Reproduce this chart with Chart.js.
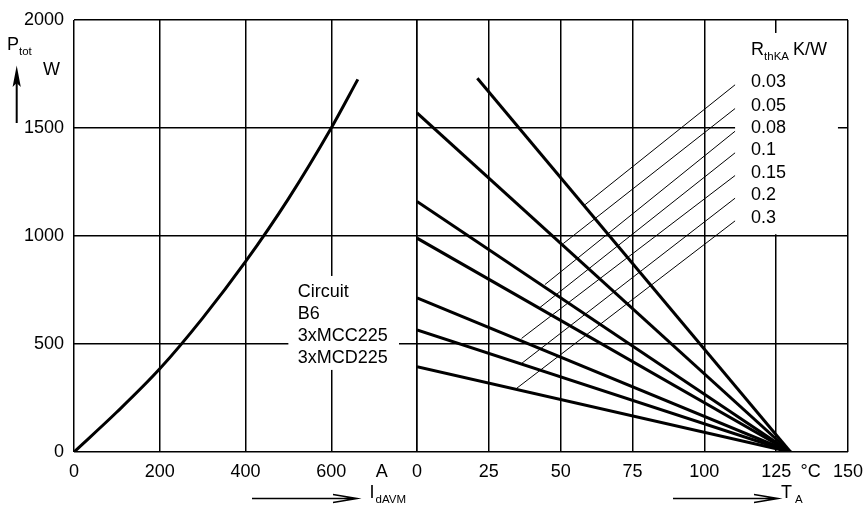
<!DOCTYPE html>
<html>
<head>
<meta charset="utf-8">
<script src="https://cdn.jsdelivr.net/npm/chart.js@4.4.1/dist/chart.umd.min.js"></script>
<style>
  html, body { margin: 0; padding: 0; background: #fff; }
</style>
</head>
<body>
<canvas id="ptotChart" width="863" height="514"></canvas>
<script>
// --- values ---
const powerTicks = [0, 500, 1000, 1500, 2000];
const currentTickValues = [0, 200, 400, 600, 718, 800];
const currentTickLabels = ['0', '200', '400', '600', 'A', ''];
const tempTickValues = [0, 25, 50, 75, 100, 125, 137, 150];
const tempTickLabels = ['0', '25', '50', '75', '100', '125', '°C', '150'];

// left half: Ptot over IdAVM
const currentValues = [0, 100, 200, 300, 400, 500, 600, 662];
const powerValues = [0, 185, 385, 620, 881, 1172, 1500, 1725];

// right half: Ptot over TA, one line per RthKA
const rthLabels = ['0.03', '0.05', '0.08', '0.1', '0.15', '0.2', '0.3'];
const lineStartT = [21, 0, 0, 0, 0, 0, 0];
const lineStartP = [1730, 1570, 1160, 990, 714, 565, 395];
const lineEndT = 130;   // every line runs down to TA = 130 °C, P = 0

// thin leader lines from each label down to its line
const leaderEndT = 110.7;
const leaderEndP = [1700, 1590, 1485, 1385, 1280, 1175, 1070];
const leaderFootT = [58.5, 50.9, 44.5, 42.8, 36.4, 36.4, 34.7];
const leaderFootP = [1145, 965, 775, 669, 526, 410, 295];

const circuitLines = ['Circuit', 'B6', '3xMCC225', '3xMCD225'];

// --- styling ---
const FAMILY = "'Liberation Sans', Arial, sans-serif";
const MAIN_FONT = '18px ' + FAMILY;
const SUB_FONT = '11.5px ' + FAMILY;
Chart.defaults.font.family = FAMILY;
Chart.defaults.font.size = 18;
Chart.defaults.color = '#000';

const datasets = [];
datasets.push({
  label: 'Ptot(IdAVM)',
  xAxisID: 'xA',
  data: currentValues.map((a, i) => ({ x: a, y: powerValues[i] })),
  borderColor: '#000',
  borderWidth: 3,
  cubicInterpolationMode: 'monotone',
  pointRadius: 0,
  showLine: true
});
rthLabels.forEach((r, i) => {
  datasets.push({
    label: 'RthKA ' + r,
    xAxisID: 'xT',
    data: [{ x: lineStartT[i], y: lineStartP[i] }, { x: lineEndT, y: 0 }],
    borderColor: '#000',
    borderWidth: 3,
    pointRadius: 0,
    showLine: true
  });
  datasets.push({
    label: 'leader ' + r,
    xAxisID: 'xT',
    data: [{ x: leaderFootT[i], y: leaderFootP[i] }, { x: leaderEndT, y: leaderEndP[i] }],
    borderColor: '#000',
    borderWidth: 1,
    pointRadius: 0,
    showLine: true
  });
});

function subText(ctx, x, base, main, sub, gap) {
  ctx.font = MAIN_FONT;
  ctx.fillText(main, x, base);
  const w = ctx.measureText(main).width;
  ctx.font = SUB_FONT;
  ctx.fillText(sub, x + w + gap, base + 5);
  return x + w + gap + ctx.measureText(sub).width;
}

function rightArrow(ctx, x0, x1, y) {
  ctx.beginPath();
  ctx.moveTo(x0, y);
  ctx.lineTo(x1, y);
  ctx.moveTo(x1 - 24, y - 4);
  ctx.lineTo(x1, y);
  ctx.lineTo(x1 - 24, y + 4);
  ctx.stroke();
}

// white blocks behind the text, drawn over the grid, then text and arrows
const decorations = {
  id: 'decorations',
  beforeDatasetsDraw(chart) {
    const { ctx, scales: { xA, xT, y } } = chart;
    ctx.save();
    ctx.fillStyle = '#fff';
    let l = xT.getPixelForValue(110.7), r = xT.getPixelForValue(146.5);
    let t = y.getPixelForValue(1940), b = y.getPixelForValue(1008);
    ctx.fillRect(l, t, r - l, b - t);
    l = xA.getPixelForValue(500); r = xA.getPixelForValue(758);
    t = y.getPixelForValue(815); b = y.getPixelForValue(380);
    ctx.fillRect(l, t, r - l, b - t);
    ctx.restore();
  },
  afterDatasetsDraw(chart) {
    const { ctx, scales: { xA, xT, y } } = chart;
    ctx.save();
    ctx.fillStyle = '#000';
    ctx.strokeStyle = '#000';
    ctx.textBaseline = 'alphabetic';
    ctx.textAlign = 'left';

    // circuit note
    ctx.font = MAIN_FONT;
    const cx = xA.getPixelForValue(522);
    const cy = y.getPixelForValue(719);
    circuitLines.forEach((s, i) => ctx.fillText(s, cx, cy + i * 22));

    // RthKA header and values at the leader ends
    const lx = xT.getPixelForValue(leaderEndT) + 16;
    const hx = subText(ctx, lx, y.getPixelForValue(1838), 'R', 'thKA', 0);
    ctx.font = MAIN_FONT;
    ctx.fillText('K/W', hx + 4, y.getPixelForValue(1838));
    rthLabels.forEach((s, i) => {
      ctx.fillText(s, lx, y.getPixelForValue(leaderEndP[i]) + 2);
    });

    // y axis title with arrow
    subText(ctx, 7, 50, 'P', 'tot', 0);
    ctx.font = MAIN_FONT;
    ctx.fillText('W', 43, 74.5);
    ctx.lineWidth = 2;
    ctx.beginPath();
    ctx.moveTo(16.7, 123);
    ctx.lineTo(16.7, 80);
    ctx.stroke();
    ctx.beginPath();
    ctx.moveTo(16.7, 65.5);
    ctx.lineTo(20.8, 87);
    ctx.lineTo(16.7, 83);
    ctx.lineTo(12.6, 87);
    ctx.closePath();
    ctx.fill();

    // x axis titles with arrows
    ctx.lineWidth = 1.5;
    rightArrow(ctx, 252, 357, 498.5);
    subText(ctx, 369.5, 498, 'I', 'dAVM', 1);
    rightArrow(ctx, 673, 778, 498.5);
    subText(ctx, 781, 498, 'T', 'A', 3);
    ctx.restore();
  }
};

function unitTick(labels) {
  return c => (c.tick && labels.indexOf(c.tick.value) >= 0) ? 'rgba(0,0,0,0)' : '#000';
}

const xTickOpts = { autoSkip: false, maxRotation: 0, minRotation: 0, padding: 9, font: { size: 18 } };

window.ptotChart = new Chart(document.getElementById('ptotChart'), {
  type: 'scatter',
  data: { datasets },
  options: {
    responsive: false,
    animation: false,
    layout: { padding: { top: 20, right: 15, bottom: 0, left: 0 } },
    plugins: { legend: { display: false }, tooltip: { enabled: false } },
    scales: {
      y: {
        type: 'linear', position: 'left', min: 0, max: 2000,
        afterBuildTicks: s => { s.ticks = powerTicks.map(v => ({ value: v })); },
        afterFit: s => { s.width = 74; s.paddingTop = 0; s.paddingBottom = 0; },
        ticks: { padding: 10, font: { size: 18 }, callback: v => String(v) },
        grid: { color: '#000', lineWidth: 1.5, drawTicks: false },
        border: { display: false }
      },
      xA: {
        type: 'linear', position: 'bottom', stack: 'bottomPair', stackWeight: 343,
        min: 0, max: 800,
        afterBuildTicks: s => { s.ticks = currentTickValues.map(v => ({ value: v })); },
        afterFit: s => { s.height = 62; s.paddingLeft = 0; s.paddingRight = 0; },
        ticks: Object.assign({ callback: (v, i) => currentTickLabels[i] }, xTickOpts),
        grid: { color: unitTick([718]), lineWidth: 1.5, drawTicks: false },
        border: { display: false }
      },
      xT: {
        type: 'linear', position: 'bottom', stack: 'bottomPair', stackWeight: 431,
        min: 0, max: 150,
        afterBuildTicks: s => { s.ticks = tempTickValues.map(v => ({ value: v })); },
        afterFit: s => { s.height = 62; s.paddingLeft = 0; s.paddingRight = 0; },
        ticks: Object.assign({ callback: (v, i) => tempTickLabels[i] }, xTickOpts),
        grid: { color: unitTick([137]), lineWidth: 1.5, drawTicks: false },
        border: { display: false }
      }
    }
  },
  plugins: [decorations]
});
</script>
</body>
</html>
